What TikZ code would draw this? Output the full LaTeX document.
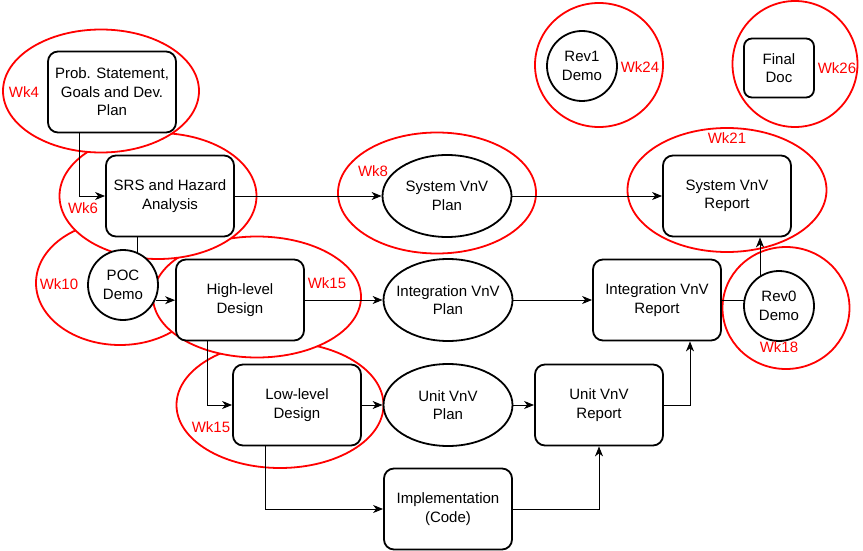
\documentclass[tikz,border=0pt]{standalone}
\usepackage{fontspec}
\setmainfont{Liberation Sans}
\usetikzlibrary{shapes.geometric,arrows.meta}
\pgfdeclarelayer{ellayer}
\pgfdeclarelayer{connlayer}
\pgfsetlayers{ellayer,connlayer,main}
\begin{document}
\begin{tikzpicture}[x=1pt,y=-1pt,
  txt/.style={font=\fontsize{15}{18.5}\selectfont, align=center, inner sep=0pt},
  box/.style={txt, draw=black, fill=white, line width=1.8pt, rounded corners=10pt, minimum width=128pt, minimum height=81pt},
  oval/.style={draw=black, fill=white, line width=1.8pt, ellipse, inner sep=0pt, minimum width=129pt, minimum height=82pt},
  circ/.style={txt, draw=black, fill=white, line width=1.8pt, circle, minimum size=70pt},
  redell/.style={draw=red, fill=white, line width=1.8pt, ellipse, inner sep=0pt},
  wk/.style={text=red, font=\fontsize{15}{18}\selectfont, inner sep=0pt},
  conn/.style={line width=1pt, -{Stealth[length=10pt,width=8pt,inset=3pt]}},
  plain/.style={line width=1pt}
]
\useasboundingbox (0,0) rectangle (863,551);

% nodes
\node[box] (prob) at (112,92) {Prob. Statement,\\Goals and Dev.\\Plan};
\node[box] (srs) at (170,196) {SRS and Hazard\\Analysis};
\node[circ] (poc) at (123,285) {POC\\Demo};
\node[box] (high) at (240,300) {High-level\\Design};
\node[box] (low) at (297,405) {Low-level\\Design};
\node[oval, label={[txt]center:Unit VnV\\Plan}] (uplan) at (448,405) {};
\node[box] (urep) at (599,405) {Unit VnV\\Report};
\node[box] (impl) at (448,509) {Implementation\\(Code)};
\node[oval, label={[txt]center:System VnV\\Plan}] (splan) at (447,196) {};
\node[oval, label={[txt]center:Integration VnV\\Plan}] (iplan) at (448,300) {};
\node[box] (irep) at (657,300) {Integration VnV\\Report};
\node[circ] (rev0) at (779,306) {Rev0\\Demo};
\node[box] (srep) at (727,196) {System VnV\\Report};
\node[circ] (rev1) at (582,66) {Rev1\\Demo};
\node[box, minimum width=70pt, minimum height=59pt, rounded corners=8pt] (final) at (779,68) {Final\\Doc};

% red milestone ellipses
\begin{pgfonlayer}{ellayer}
\node[redell, minimum width=207pt, minimum height=126pt] (r15l) at (280,405) {};
\node[redell, minimum width=168pt, minimum height=124pt] (r10) at (120,283) {};
\node[redell, minimum width=208pt, minimum height=121pt] (r15h) at (257,297) {};
\node[redell, minimum width=197pt, minimum height=126pt] (r6) at (158,196) {};
\node[redell, minimum width=196pt, minimum height=123pt] (r4) at (101,91) {};
\node[redell, minimum width=198pt, minimum height=121pt] (r8) at (437,193) {};
\node[redell, minimum width=199pt, minimum height=124pt] (r21) at (727,190) {};
\node[redell, minimum width=127pt, minimum height=122pt] (r18) at (786,308) {};
\node[redell, minimum width=128pt, minimum height=124pt] (r24) at (599,65) {};
\node[redell, minimum width=125pt, minimum height=126pt] (r26) at (795,64) {};
\end{pgfonlayer}

% connectors
\begin{pgfonlayer}{connlayer}
\coordinate (c1) at ([xshift=32pt]prob.south west);
\draw[conn] (c1) |- (srs.west);
\draw[conn] (srs.east) -- (splan.west);
\draw[conn] (splan.east) -- (srep.west);
\coordinate (c2) at ([xshift=32pt]srs.south west);
\draw[plain] (c2) -- (c2 |- poc.center);
\draw[conn] (poc.-25) -- (poc.-25 -| high.west);
\draw[conn] (high.east) -- (iplan.west);
\draw[conn] (iplan.east) -- (irep.west);
\coordinate (c3) at ([xshift=32pt]high.south west);
\draw[conn] (c3) |- (low.west);
\draw[conn] (low.east) -- (uplan.west);
\draw[conn] (uplan.east) -- (urep.west);
\coordinate (c4) at ([xshift=33pt]low.south west);
\draw[conn] (c4) |- (impl.west);
\draw[conn] (impl.east) -| (urep.south);
\coordinate (c5) at ([xshift=33pt]irep.south);
\draw[conn] (urep.east) -| (c5);
\draw[plain] (irep.east) -- (irep.east -| rev0.center);
\coordinate (c6) at ([xshift=-19pt]rev0.center);
\draw[conn] (c6) -- (c6 |- srep.south);
\end{pgfonlayer}

% week labels
\node[wk] (w4) at (24,92) {Wk4};
\node[wk] (w6) at (83,208) {Wk6};
\node[wk] (w10) at (59,284) {Wk10};
\node[wk] (w15h) at (327,283) {Wk15};
\node[wk] (w15l) at (211,427) {Wk15};
\node[wk] (w8) at (373,171) {Wk8};
\node[wk] (w21) at (727,138) {Wk21};
\node[wk] (w18) at (779,347) {Wk18};
\node[wk] (w24) at (640,67) {Wk24};
\node[wk] (w26) at (837,68) {Wk26};
\end{tikzpicture}
\end{document}
